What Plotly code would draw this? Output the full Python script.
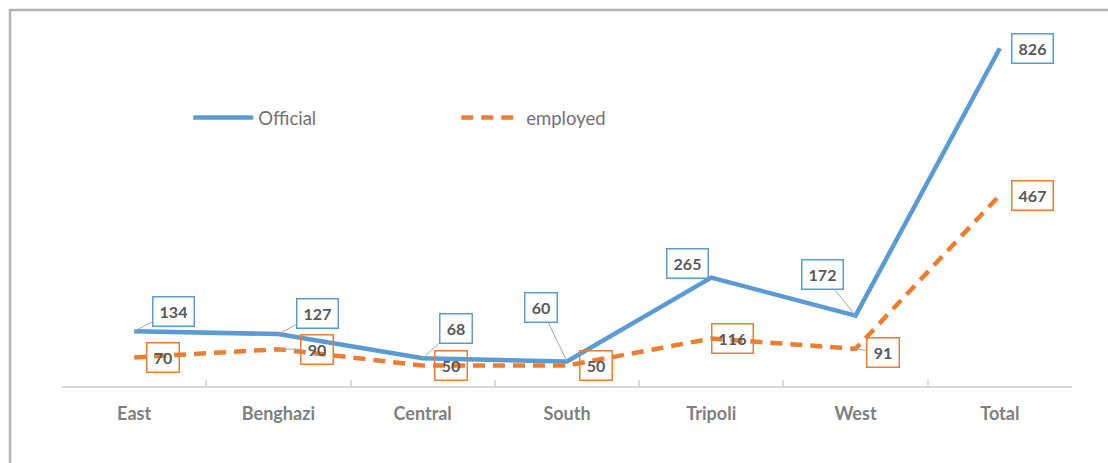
import plotly.graph_objects as go

# Regional counts
categories = ["East", "Benghazi", "Central", "South", "Tripoli", "West", "Total"]
official = [134, 127, 68, 60, 265, 172, 826]
employed = [70, 90, 50, 50, 116, 91, 467]

# Label placement (pixel offsets from each point) and whether a leader line is drawn
official_offsets = [(39, -20, True), (39, -21, True), (33, -30, True), (-26, -54, True),
                    (-24, -14, False), (-33, -41, True), (33, 0, False)]
employed_offsets = [(29, 0, False), (39, 0, True), (28, 0, False), (29, 0, False),
                    (21, 0, False), (27, 4, True), (33, 0, False)]

BLUE = "#5b9bd5"
ORANGE = "#ed7d31"
FONT = "Lato"

fig = go.Figure()
fig.add_trace(go.Scatter(
    x=categories, y=official, name="Official", mode="lines",
    line=dict(color=BLUE, width=4.5),
))
fig.add_trace(go.Scatter(
    x=categories, y=employed, name="employed", mode="lines",
    line=dict(color=ORANGE, width=4.5, dash="12px,8px"),
))


def add_labels(values, offsets, color):
    for cat, val, (ax, ay, leader) in zip(categories, values, offsets):
        fig.add_annotation(
            x=cat, y=val, text=f"<b>{val}</b>",
            showarrow=True, arrowhead=0, arrowwidth=1,
            arrowcolor="#a6a6a6" if leader else "rgba(0,0,0,0)",
            ax=ax, ay=ay, standoff=0,
            font=dict(family=FONT, size=16, color="#595959"),
            bordercolor=color, borderwidth=1.5, borderpad=3,
            width=34 if val >= 100 else 25, height=22,
        )


add_labels(official, official_offsets, BLUE)
add_labels(employed, employed_offsets, ORANGE)

# Outer frame
fig.add_shape(type="rect", xref="paper", yref="paper",
              x0=-0.0515, x1=1.2, y0=-0.4, y1=1.0217,
              line=dict(color="#b4b4b4", width=2.5), layer="below")

fig.update_layout(
    width=1108, height=463,
    margin=dict(l=62, r=36, t=18, b=77),
    paper_bgcolor="white", plot_bgcolor="white",
    font=dict(family=FONT, color="#595959"),
    showlegend=True,
    legend=dict(
        orientation="h", x=0.125, y=0.728, xanchor="left", yanchor="middle",
        entrywidth=193, entrywidthmode="pixels", itemwidth=60,
        font=dict(family=FONT, size=18.5, color="#767171"),
        bgcolor="rgba(0,0,0,0)",
    ),
    xaxis=dict(
        type="category", range=[-0.5, 6.5],
        showline=True, linecolor="#d9d9d9", linewidth=1.5,
        ticks="inside", tickson="boundaries", ticklen=6, tickcolor="#d9d9d9",
        tickwidth=1.5, showgrid=False, zeroline=False,
        tickfont=dict(family=FONT, size=18, color="#7f7f7f", weight="bold"),
        ticklabelstandoff=11,
    ),
    yaxis=dict(range=[0, 900], visible=False, showgrid=False, zeroline=False),
)

fig.write_html("out.html")
